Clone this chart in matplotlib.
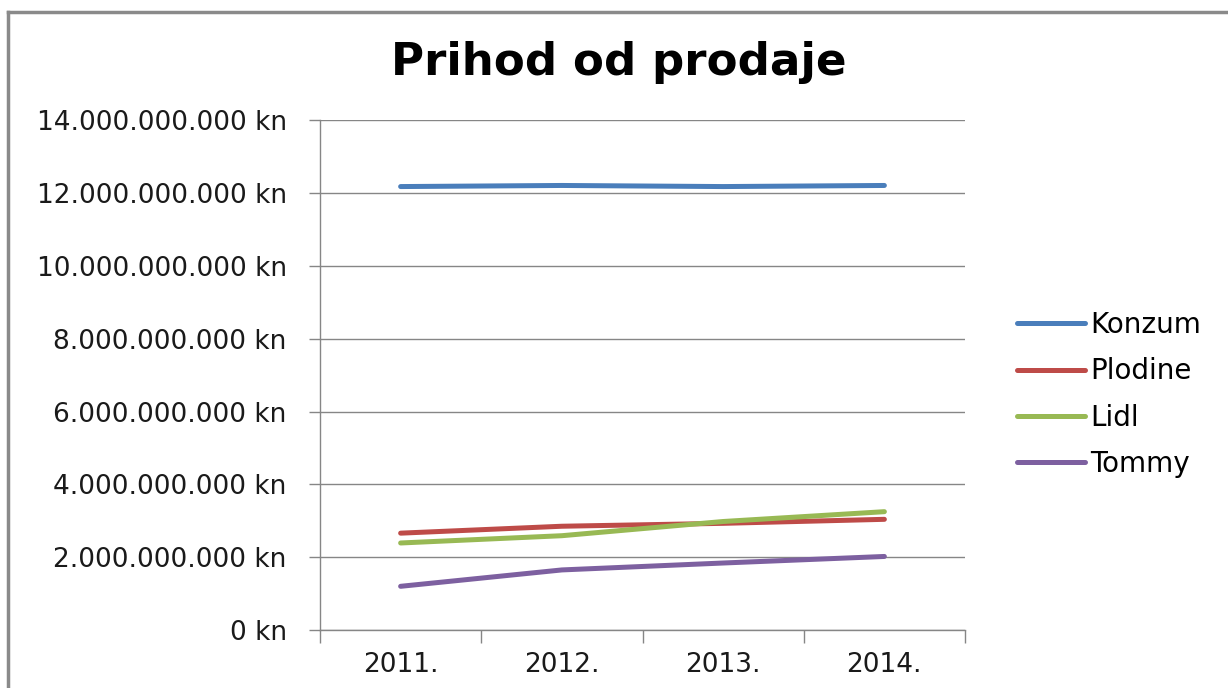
import matplotlib.pyplot as plt
from matplotlib.ticker import FuncFormatter, FixedLocator
from matplotlib.lines import Line2D

# data
years = ["2011.", "2012.", "2013.", "2014."]
konzum = [12.18e9, 12.21e9, 12.18e9, 12.21e9]
plodine = [2.66e9, 2.85e9, 2.93e9, 3.04e9]
lidl = [2.39e9, 2.59e9, 2.98e9, 3.25e9]
tommy = [1.20e9, 1.65e9, 1.84e9, 2.02e9]
series = [("Konzum", konzum, "#4a7ebb"),
          ("Plodine", plodine, "#be4b48"),
          ("Lidl", lidl, "#98b954"),
          ("Tommy", tommy, "#7d60a0")]

plt.rcParams['font.family'] = ['DejaVu Sans']

W, H = 1228, 688
fig = plt.figure(figsize=(W / 100, H / 100), dpi=100)
ax = fig.add_axes([320 / W, 1 - 630 / H, (965 - 320) / W, (630 - 120.3) / H])

x = list(range(len(years)))
for name, vals, col in series:
    ax.plot(x, vals, color=col, lw=3.6, solid_capstyle='round', label=name)

ax.set_xlim(-0.5, len(years) - 0.5)
ax.set_ylim(0, 14e9)
ax.set_yticks([i * 2e9 for i in range(8)])
ax.yaxis.set_major_formatter(FuncFormatter(
    lambda v, p: "{:,.0f} kn".format(v).replace(",", ".")))

# category boundaries get tick marks, centers get labels
ax.xaxis.set_major_locator(FixedLocator([i - 0.5 for i in range(len(years) + 1)]))
ax.xaxis.set_major_formatter(FuncFormatter(lambda v, p: ""))
ax.xaxis.set_minor_locator(FixedLocator(x))
ax.set_xticklabels(years, minor=True)
ax.tick_params(axis='x', which='major', length=9, width=1, color='#868686', direction='out')
ax.tick_params(axis='x', which='minor', length=0, pad=16, labelsize=19, labelcolor='#1a1a1a')
ax.tick_params(axis='y', length=8, width=1, color='#868686', pad=16, labelsize=19, labelcolor='#1a1a1a')

ax.grid(axis='y', color='#868686', lw=1)
ax.set_axisbelow(True)
for s in ['top', 'right']:
    ax.spines[s].set_visible(False)
for s in ['left', 'bottom']:
    ax.spines[s].set_color('#868686')
    ax.spines[s].set_linewidth(1)

fig.text(619 / W, 1 - 62 / H, "Prihod od prodaje", ha='center', va='center',
         fontsize=32.5, fontweight='bold')

leg = fig.legend(loc='upper left', bbox_to_anchor=(992 / W, 1 - 286 / H), frameon=False,
                 fontsize=20, handlelength=2.45, handletextpad=0.2, labelspacing=0.66)

# outer chart frame (top and left edges visible)
fig.add_artist(Line2D([8 / W, 1], [1 - 12 / H, 1 - 12 / H], transform=fig.transFigure,
                      color='#8a8a8a', lw=2.5))
fig.add_artist(Line2D([8 / W, 8 / W], [0, 1 - 12 / H], transform=fig.transFigure,
                      color='#8a8a8a', lw=2.5))

fig.savefig("out.png", dpi=100)
